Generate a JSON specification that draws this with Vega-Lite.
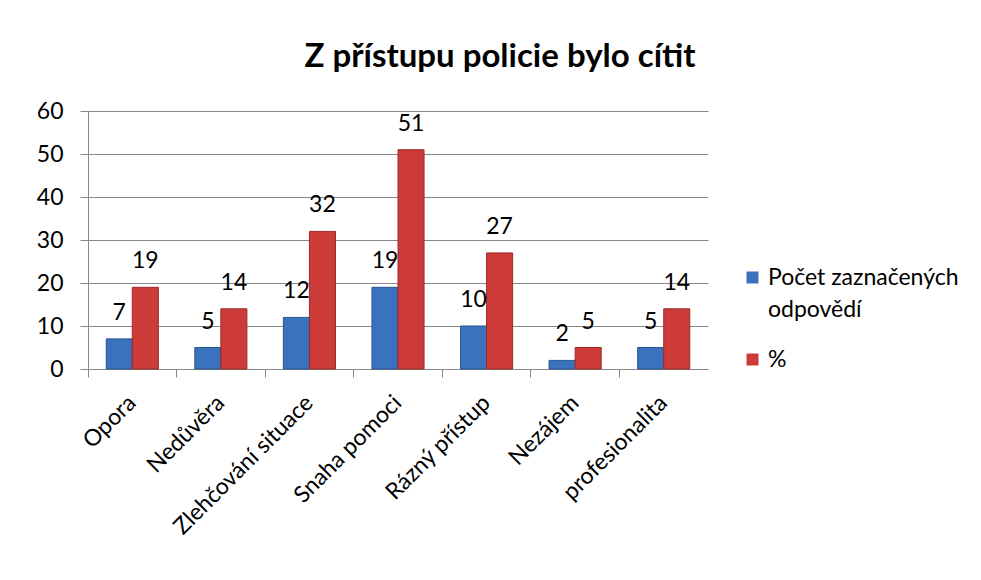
{
  "$schema": "https://vega.github.io/schema/vega-lite/v6.json",
  "autosize": {"type": "none"},
  "width": 620,
  "height": 258,
  "padding": {"left": 88, "top": 111, "right": 273, "bottom": 211},
  "background": "white",
  "config": {
    "font": "Lato",
    "view": {"stroke": null},
    "style": {"guide-label": {"lineHeight": 32}}
  },
  "title": {
    "text": "Z přístupu policie bylo cítit",
    "font": "Lato",
    "fontSize": 33,
    "fontWeight": "bold",
    "color": "#000000",
    "anchor": "middle",
    "frame": "group",
    "dx": 102,
    "offset": 26
  },
  "data": {
    "values": [
      {"kategorie": "Opora", "serie": "Počet zaznačených odpovědí", "hodnota": 7},
      {"kategorie": "Opora", "serie": "%", "hodnota": 19},
      {"kategorie": "Nedůvěra", "serie": "Počet zaznačených odpovědí", "hodnota": 5},
      {"kategorie": "Nedůvěra", "serie": "%", "hodnota": 14},
      {"kategorie": "Zlehčování situace", "serie": "Počet zaznačených odpovědí", "hodnota": 12},
      {"kategorie": "Zlehčování situace", "serie": "%", "hodnota": 32},
      {"kategorie": "Snaha pomoci", "serie": "Počet zaznačených odpovědí", "hodnota": 19},
      {"kategorie": "Snaha pomoci", "serie": "%", "hodnota": 51},
      {"kategorie": "Rázný přístup", "serie": "Počet zaznačených odpovědí", "hodnota": 10},
      {"kategorie": "Rázný přístup", "serie": "%", "hodnota": 27},
      {"kategorie": "Nezájem", "serie": "Počet zaznačených odpovědí", "hodnota": 2},
      {"kategorie": "Nezájem", "serie": "%", "hodnota": 5},
      {"kategorie": "profesionalita", "serie": "Počet zaznačených odpovědí", "hodnota": 5},
      {"kategorie": "profesionalita", "serie": "%", "hodnota": 14}
    ]
  },
  "encoding": {
    "x": {
      "field": "kategorie",
      "type": "nominal",
      "sort": null,
      "scale": {"paddingInner": 0, "paddingOuter": 0},
      "axis": {
        "title": null,
        "labelAngle": -45,
        "labelAlign": "right",
        "labelBaseline": "middle",
        "labelFontSize": 23,
        "labelColor": "#000000",
        "labelPadding": 22,
        "labelLimit": 400,
        "bandPosition": 0,
        "tickSize": 8,
        "tickColor": "#888888",
        "domainColor": "#888888",
        "grid": false
      }
    },
    "xOffset": {
      "field": "serie",
      "type": "nominal",
      "sort": ["Počet zaznačených odpovědí", "%"],
      "scale": {"paddingInner": 0, "paddingOuter": 0.7}
    },
    "y": {
      "field": "hodnota",
      "type": "quantitative",
      "scale": {"domain": [0, 60]},
      "axis": {
        "title": null,
        "values": [0, 10, 20, 30, 40, 50, 60],
        "labelFontSize": 23,
        "labelColor": "#000000",
        "labelPadding": 17,
        "tickSize": 8,
        "tickColor": "#888888",
        "domainColor": "#888888",
        "gridColor": "#888888",
        "gridWidth": 1
      }
    }
  },
  "layer": [
    {
      "mark": {"type": "bar", "strokeWidth": 1},
      "encoding": {
        "color": {
          "field": "serie",
          "type": "nominal",
          "sort": ["Počet zaznačených odpovědí", "%"],
          "scale": {"domain": ["Počet zaznačených odpovědí", "%"], "range": ["#3A72BE", "#CC3B37"]},
          "legend": {
            "title": null,
            "orient": "none",
            "legendX": 653,
            "legendY": 155,
            "symbolType": "square",
            "symbolSize": 144,
            "symbolStrokeWidth": 0,
            "labelFontSize": 23,
            "labelColor": "#000000",
            "labelLimit": 300,
            "labelOffset": 4,
            "rowPadding": 26,
            "labelExpr": "datum.label == 'Počet zaznačených odpovědí' ? ['Počet zaznačených', 'odpovědí'] : datum.label"
          }
        },
        "stroke": {
          "field": "serie",
          "type": "nominal",
          "scale": {"domain": ["Počet zaznačených odpovědí", "%"], "range": ["#2A5590", "#9A2A27"]},
          "legend": null
        }
      }
    },
    {
      "mark": {"type": "text", "baseline": "middle", "dy": -26, "fontSize": 23, "color": "#000000"},
      "encoding": {
        "text": {"field": "hodnota", "type": "quantitative"}
      }
    }
  ]
}
